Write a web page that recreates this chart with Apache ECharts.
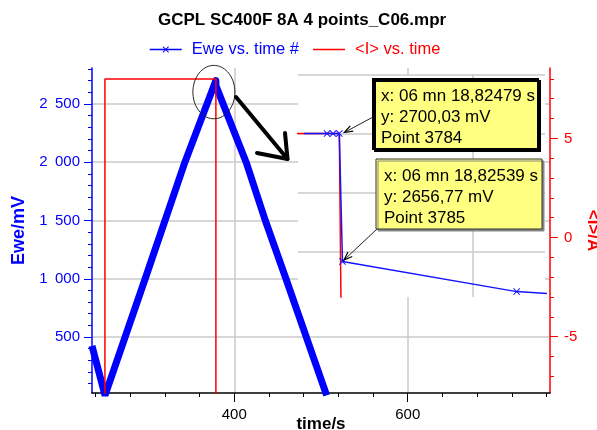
<!DOCTYPE html>
<html>
<head>
<meta charset="utf-8">
<script src="https://cdn.jsdelivr.net/npm/echarts@6/dist/echarts.min.js"></script>
<style>
  html, body { margin: 0; padding: 0; background: #fff; }
  #chart { width: 597px; height: 430px; }
</style>
</head>
<body>
<div id="chart"></div>
<script>
// ticks
const timeLabels = [400, 600];
const timeTicks = [240, 280, 320, 360, 400, 440, 480, 520, 560, 600, 640, 680, 720, 760];
const eweLabels = [500, 1000, 1500, 2000, 2500];
const eweTicks = [100, 200, 300, 400, 500, 600, 700, 800, 900, 1000, 1100, 1200, 1300, 1400,
  1500, 1600, 1700, 1800, 1900, 2000, 2100, 2200, 2300, 2400, 2500, 2600, 2700, 2800];
const curLabels = [-5, 0, 5];
const curTicks = [-7, -6, -5, -4, -3, -2, -1, 0, 1, 2, 3, 4, 5, 6, 7, 8];

// main view: Ewe (mV) and <I> (A) vs time (s)
const eweTime = [236, 251, 297.3, 343.1, 378.82479, 378.82539, 413.7, 435.8, 459.6, 506.5];
const eweValue = [425, 0, 1000, 2000, 2700.03, 2656.77, 2000, 1500, 1000, 0];
const curTime = [236, 250.9, 250.9, 378.82479, 378.82539, 764];
const curValue = [-8, -8, 8, 8, -8, -8];

// zoomed view around the end of charge
const zoomTimeTicks = [378.85];
const zoomEweTicks = [2660, 2680, 2700, 2720];
const zoomTime = [378.8181, 378.82246, 378.8236, 378.82479, 378.82539, 378.85841, 378.86435];
const zoomEwe = [2700.0, 2700.0, 2700.0, 2700.03, 2656.77, 2646.6, 2645.9];
const zoomCurTime = [378.8165, 378.82479, 378.82539];
const zoomCur = [8, 8, -8];

// cursor readouts
const readouts = [
  ['x: 06 mn 18,82479 s', 'y: 2700,03 mV', 'Point 3784'],
  ['x: 06 mn 18,82539 s', 'y: 2656,77 mV', 'Point 3785']
];

const FONT = "'Liberation Sans', Arial, sans-serif";
const BLUE = '#0000ff';
const RED = '#ff0000';
const GRID = '#cacaca';
const CROSS = 'path://M0,1L1,0L5,4L9,0L10,1L6,5L10,9L9,10L5,6L1,10L0,9L4,5Z';

function zip(a, b) {
  return a.map((v, i) => [v, b[i]]);
}

function thousands(v) {
  if (v < 1000) return String(v);
  return Math.floor(v / 1000) + '\u2002' + String(v % 1000).padStart(3, '0');
}

const chart = echarts.init(document.getElementById('chart'));

chart.setOption({
  animation: false,
  textStyle: { fontFamily: FONT },
  title: {
    text: 'GCPL SC400F 8A 4 points_C06.mpr',
    left: 158, top: 12, padding: 0,
    textStyle: { fontSize: 17, fontWeight: 'bold', color: '#000', fontFamily: FONT }
  },
  legend: {
    left: 149, top: 41, padding: 0,
    itemWidth: 32, itemHeight: 8, itemGap: 14,
    lineStyle: { width: 1.5 },
    textStyle: { fontSize: 16.5, padding: [0, 0, 0, 5] },
    data: [
      { name: 'Ewe vs. time #', textStyle: { color: BLUE } },
      { name: '<I> vs. time', icon: 'path://M0,0L32,0L32,1.5L0,1.5Z', textStyle: { color: RED } }
    ]
  },
  grid: [
    { left: 92, top: 68, right: 47, bottom: 37, containLabel: false, outerBoundsMode: 'none' },
    { left: 298, top: 74, width: 247, height: 223, show: true, containLabel: false,
      outerBoundsMode: 'none', backgroundColor: '#fff', borderWidth: 0, z: 4 }
  ],
  xAxis: [
    {
      type: 'value', gridIndex: 0, position: 'bottom', min: 236, max: 764,
      axisLine: { onZero: false, lineStyle: { color: '#000', width: 1.5 } },
      axisTick: { show: true, customValues: timeTicks, length: 4, lineStyle: { color: '#000' } },
      axisLabel: { customValues: timeLabels, color: '#000', fontSize: 15, margin: 14 },
      splitLine: { show: false },
      name: 'time/s', nameLocation: 'middle', nameGap: 23, nameMoveOverlap: false,
      nameTextStyle: { fontSize: 17, fontWeight: 'bold', color: '#000' }
    },
    {
      type: 'value', gridIndex: 0, position: 'bottom', min: 236, max: 764,
      axisLine: { show: false, onZero: false },
      axisTick: { show: true, customValues: timeLabels, length: 9, lineStyle: { color: '#000' } },
      axisLabel: { show: false },
      splitLine: { show: true, lineStyle: { color: GRID, width: 1.5 } }
    },
    {
      type: 'value', gridIndex: 1, min: 378.81696, max: 378.86378, z: 5,
      axisLine: { show: false, onZero: false },
      axisTick: { show: false, customValues: zoomTimeTicks },
      axisLabel: { show: false },
      splitLine: { show: true, lineStyle: { color: GRID, width: 1.5 } }
    }
  ],
  yAxis: [
    {
      type: 'value', gridIndex: 0, position: 'left', min: 20, max: 2808,
      axisLine: { show: true, onZero: false, lineStyle: { color: BLUE, width: 1.5 } },
      axisTick: { show: true, customValues: eweLabels, length: 8, lineStyle: { color: BLUE } },
      axisLabel: { customValues: eweLabels, formatter: thousands, color: BLUE, fontSize: 15, margin: 12 },
      splitLine: { show: true, lineStyle: { color: GRID, width: 1.5 } },
      name: 'Ewe/mV', nameLocation: 'middle', nameGap: 60,
      nameTextStyle: { fontSize: 18, fontWeight: 'bold', color: BLUE }
    },
    {
      type: 'value', gridIndex: 0, position: 'left', min: 20, max: 2808,
      axisLine: { show: false, onZero: false },
      axisTick: { show: true, customValues: eweTicks, length: 4, lineStyle: { color: BLUE } },
      axisLabel: { show: false },
      splitLine: { show: false }
    },
    {
      type: 'value', gridIndex: 0, position: 'right', min: -7.84, max: 8.55,
      axisLine: { show: true, onZero: false, lineStyle: { color: RED, width: 1.5 } },
      axisTick: { show: true, customValues: curLabels, length: 8, lineStyle: { color: RED } },
      axisLabel: { customValues: curLabels, color: RED, fontSize: 15, margin: 14 },
      splitLine: { show: false },
      name: '<I>/A', nameLocation: 'middle', nameGap: 34, nameRotate: -90, nameMoveOverlap: false,
      nameTextStyle: { fontSize: 17, fontWeight: 'bold', color: RED }
    },
    {
      type: 'value', gridIndex: 0, position: 'right', min: -7.84, max: 8.55,
      axisLine: { show: false, onZero: false },
      axisTick: { show: true, customValues: curTicks, length: 4, lineStyle: { color: RED } },
      axisLabel: { show: false },
      splitLine: { show: false }
    },
    {
      type: 'value', gridIndex: 1, min: 2644.78, max: 2720.14, z: 5,
      axisLine: { show: false, onZero: false },
      axisTick: { show: false, customValues: zoomEweTicks },
      axisLabel: { show: false },
      splitLine: { show: true, lineStyle: { color: GRID, width: 1.5 } }
    },
    { type: 'value', gridIndex: 1, min: -0.25, max: 11, show: false }
  ],
  series: [
    {
      name: 'Ewe vs. time #', type: 'line', xAxisIndex: 0, yAxisIndex: 0,
      data: zip(eweTime, eweValue),
      symbol: CROSS, showSymbol: false,
      lineStyle: { color: BLUE, width: 7, join: 'round' },
      itemStyle: { color: BLUE }, z: 2
    },
    {
      name: '<I> vs. time', type: 'line', xAxisIndex: 0, yAxisIndex: 2,
      data: zip(curTime, curValue), symbol: 'none',
      lineStyle: { color: RED, width: 1.5 }, itemStyle: { color: RED }, z: 3
    },
    {
      name: '<I> vs. time', type: 'line', xAxisIndex: 2, yAxisIndex: 5,
      data: zip(zoomCurTime, zoomCur), symbol: 'none',
      lineStyle: { color: RED, width: 1.5 }, itemStyle: { color: RED }, z: 6
    },
    {
      name: 'Ewe vs. time #', type: 'line', xAxisIndex: 2, yAxisIndex: 4,
      data: zoomTime.map((t, i) => ({
        value: [t, zoomEwe[i]],
        symbol: (i === 0 || i === zoomTime.length - 1) ? 'none' : CROSS
      })),
      symbolSize: 7, showSymbol: true,
      lineStyle: { color: '#1414ff', width: 1.5 }, itemStyle: { color: '#1414ff' }, z: 7
    }
  ]
});

// annotations: circle around the peak, hand arrow, cursor readout boxes
const peak = chart.convertToPixel({ xAxisIndex: 0, yAxisIndex: 0 }, [eweTime[4], eweValue[4]]);
const graphics = [];

const ring = [];
for (let k = 0; k <= 72; k++) {
  const a = (k / 72) * Math.PI * 2;
  ring.push([peak[0] - 2 + 21 * Math.cos(a), peak[1] + 11.5 + 26.7 * Math.sin(a)]);
}
graphics.push({ type: 'polyline', shape: { points: ring }, style: { stroke: '#222', lineWidth: 1, fill: null }, z: 10 });
graphics.push({ type: 'polyline', shape: { points: [[236, 97], [287.5, 159]] },
  style: { stroke: '#000', lineWidth: 4, lineCap: 'round' }, z: 10 });
graphics.push({ type: 'polyline', shape: { points: [[285, 133], [287.5, 159], [257, 153]] },
  style: { stroke: '#000', lineWidth: 4, lineCap: 'round', lineJoin: 'round', fill: null }, z: 10 });

function arrow(from, to) {
  const dx = to[0] - from[0], dy = to[1] - from[1];
  const len = Math.hypot(dx, dy);
  const ux = dx / len, uy = dy / len;
  const arm = (ang) => {
    const c = Math.cos(ang), s = Math.sin(ang);
    return [to[0] - 9 * (ux * c - uy * s), to[1] - 9 * (ux * s + uy * c)];
  };
  graphics.push({ type: 'polyline', shape: { points: [from, to] },
    style: { stroke: '#222', lineWidth: 1 }, z: 11 });
  graphics.push({ type: 'polyline', shape: { points: [arm(0.35), to, arm(-0.35)] },
    style: { stroke: '#000', lineWidth: 1.2, fill: null }, z: 11 });
}

const boxes = [
  { x: 373, y: 79, w: 165, h: 70, anchor: [373, 117], dx: 5, dy: -1, stroke: '#000', lw: 2, shadow: '#000' },
  { x: 376, y: 159, w: 166, h: 70, anchor: [377, 229], dx: 1.5, dy: -1.5, stroke: '#333', lw: 1, shadow: '#888' }
];
boxes.forEach((b, i) => {
  const p = chart.convertToPixel({ xAxisIndex: 2, yAxisIndex: 4 }, [zoomTime[3 + i], zoomEwe[3 + i]]);
  arrow(b.anchor, [p[0] + b.dx, p[1] + b.dy]);
  graphics.push({
    type: 'rect', shape: { x: b.x, y: b.y, width: b.w, height: b.h },
    style: { fill: '#ffff80', stroke: b.stroke, lineWidth: b.lw,
      shadowColor: b.shadow, shadowOffsetX: 2, shadowOffsetY: 2, shadowBlur: 0 },
    z: 12
  });
  readouts[i].forEach((line, j) => {
    graphics.push({
      type: 'text', x: b.x + 8, y: b.y + 17.5 + j * 20.8, z: 13,
      style: { text: line, fill: '#000', fontSize: 17, fontFamily: FONT, verticalAlign: 'middle' }
    });
  });
});

chart.setOption({ graphic: graphics });
</script>
</body>
</html>
